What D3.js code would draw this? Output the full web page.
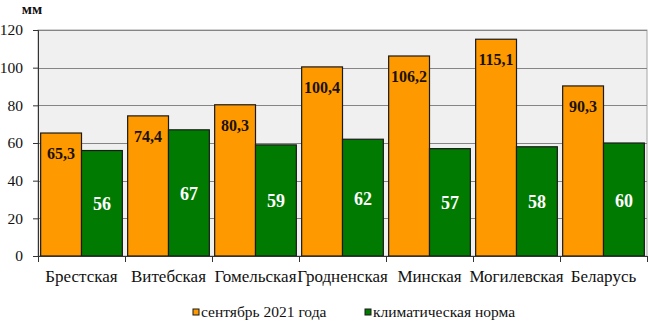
<!DOCTYPE html>
<html>
<head>
<meta charset="utf-8">
<script src="https://cdn.jsdelivr.net/npm/d3@7"></script>
<style>
  html, body { margin: 0; padding: 0; background: #fff; }
  svg { display: block; }
</style>
</head>
<body>
<svg id="chart" width="649" height="325" style="font-family:'Liberation Serif', serif"></svg>
<script>
// Осадки по областям, мм
const regions = ["Брестская", "Витебская", "Гомельская", "Гродненская", "Минская", "Могилевская", "Беларусь"];
const september2021 = [65.3, 74.4, 80.3, 100.4, 106.2, 115.1, 90.3];
const climateNorm = [56, 67, 59, 62, 57, 58, 60];
const yTicks = [0, 20, 40, 60, 80, 100, 120];
const seriesNames = ["сентябрь 2021 года", "климатическая норма"];
const seriesColors = ["#ff9900", "#007a00"];

const FONT = "'Liberation Serif', 'Times New Roman', serif";
const svg = d3.select("#chart");
const plot = { left: 38, right: 647, top: 30, bottom: 256 };

const x = d3.scaleBand().domain(regions).range([plot.left, plot.right]).paddingInner(0).paddingOuter(0);
const xSub = d3.scaleBand().domain([0, 1]).range([0, x.bandwidth()]).paddingOuter(0.065).paddingInner(0);
const y = d3.scaleLinear().domain([0, 120]).range([plot.bottom, plot.top]);

// фон области построения
svg.append("rect")
  .attr("x", plot.left).attr("y", plot.top)
  .attr("width", plot.right - plot.left).attr("height", plot.bottom - plot.top)
  .attr("fill", "#f0f0f0").attr("stroke", "#a6a6a6").attr("stroke-width", 1);

// сетка
svg.append("g").selectAll("line").data(yTicks.filter(d => d > 0)).join("line")
  .attr("x1", plot.left).attr("x2", plot.right)
  .attr("y1", d => Math.round(y(d)) + 0.5).attr("y2", d => Math.round(y(d)) + 0.5)
  .attr("stroke", "#858585").attr("stroke-width", 1);

// столбцы
const series = [september2021, climateNorm];
series.forEach((vals, si) => {
  svg.append("g").selectAll("rect").data(vals).join("rect")
    .attr("x", (d, i) => x(regions[i]) + xSub(si))
    .attr("y", d => y(d))
    .attr("width", xSub.bandwidth())
    .attr("height", d => plot.bottom - y(d))
    .attr("fill", seriesColors[si])
    .attr("stroke", "#1a1a1a").attr("stroke-width", 1.2);
});

// подписи значений
svg.append("g").selectAll("text").data(september2021).join("text")
  .attr("x", (d, i) => x(regions[i]) + xSub(0) + xSub.bandwidth() / 2)
  .attr("y", d => y(d) + 26)
  .attr("text-anchor", "middle")
  .attr("font-family", FONT)
  .attr("font-size", 16).attr("font-weight", "bold").attr("fill", "#1a1208")
  .text(d => d3.format(".1f")(d).replace(".", ","));

svg.append("g").selectAll("text").data(climateNorm).join("text")
  .attr("x", (d, i) => x(regions[i]) + xSub(1) + xSub.bandwidth() / 2)
  .attr("y", d => (y(d) + plot.bottom) / 2 + 7)
  .attr("text-anchor", "middle")
  .attr("font-family", FONT)
  .attr("font-size", 18).attr("font-weight", "bold").attr("fill", "#ffffff")
  .text(d => d);

// оси
const yAxis = d3.axisLeft(y).tickValues(yTicks).tickSize(5).tickPadding(10);
const gy = svg.append("g").attr("transform", `translate(${plot.left},0)`).call(yAxis);
gy.attr("font-family", FONT);
gy.select(".domain").attr("stroke", "#333");
gy.selectAll(".tick line").attr("stroke", "#333");
gy.selectAll(".tick text").attr("font-size", 15.5).attr("fill", "#111").attr("font-family", FONT);

const gx = svg.append("g").attr("transform", `translate(0,${plot.bottom})`);
gx.append("line").attr("x1", plot.left).attr("x2", plot.right).attr("y1", 0.5).attr("y2", 0.5).attr("stroke", "#333");
gx.selectAll("line.tk").data(d3.range(regions.length + 1)).join("line").attr("class", "tk")
  .attr("x1", i => Math.round(plot.left + i * x.bandwidth()) + 0.5)
  .attr("x2", i => Math.round(plot.left + i * x.bandwidth()) + 0.5)
  .attr("y1", 0).attr("y2", 6).attr("stroke", "#333");
gx.selectAll("text").data(regions).join("text")
  .attr("x", d => x(d) + x.bandwidth() / 2)
  .attr("y", 26)
  .attr("text-anchor", "middle")
  .attr("font-family", FONT)
  .attr("font-size", 17).attr("fill", "#111")
  .text(d => d);

// единица измерения
svg.append("text").attr("x", 32).attr("y", 14).attr("text-anchor", "middle")
  .attr("font-family", FONT)
  .attr("font-size", 15).attr("font-weight", "bold").attr("fill", "#111").text("мм");

// легенда
const legendX = [193, 365];
seriesNames.forEach((name, i) => {
  const g = svg.append("g").attr("transform", `translate(${legendX[i]},309)`);
  g.append("rect").attr("x", 0).attr("y", 0).attr("width", 6).attr("height", 6)
    .attr("fill", seriesColors[i]).attr("stroke", "#1a1a1a").attr("stroke-width", 1);
  g.append("text").attr("x", 8).attr("y", 8).attr("font-family", FONT)
    .attr("font-size", 15.5).attr("fill", "#111").text(name);
});
</script>
</body>
</html>
